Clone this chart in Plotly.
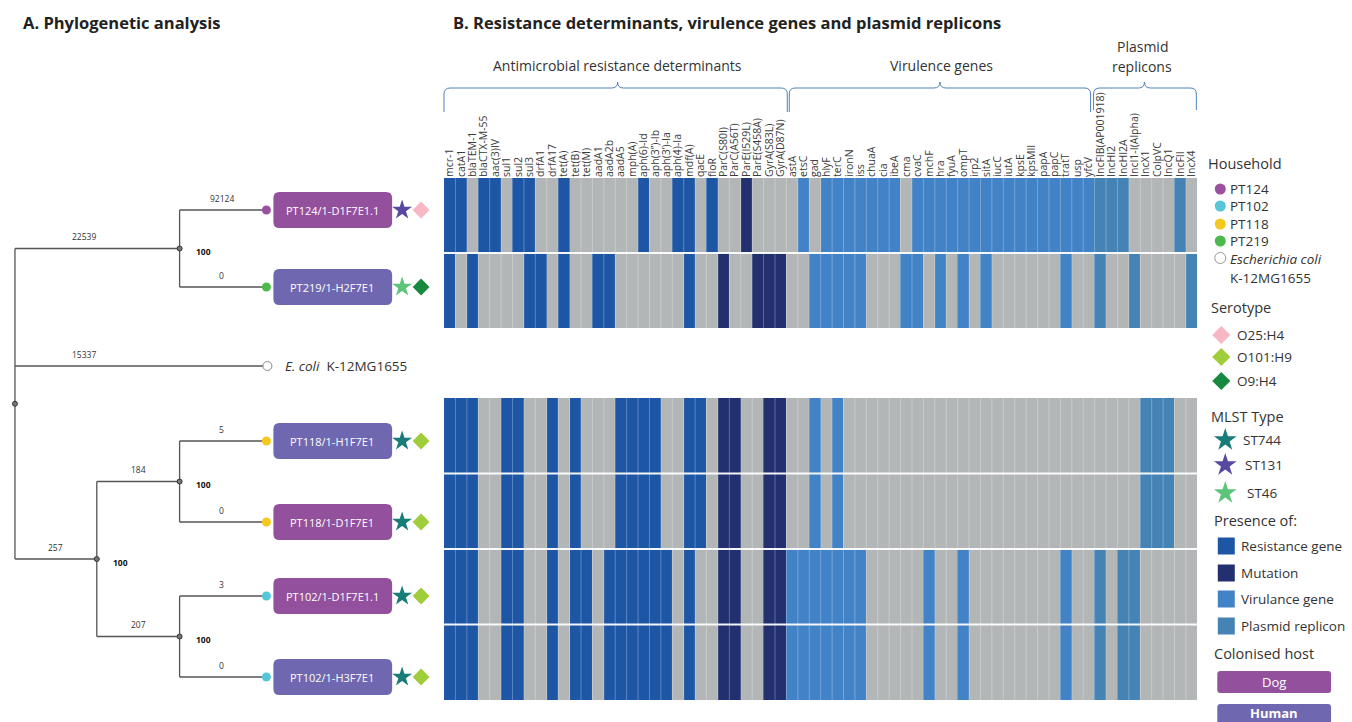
import plotly.graph_objects as go

W, H = 1352, 722
FONT = "Open Sans"

# ---------------- data ----------------
amr_genes = ["mcr-1", "catA1", "blaTEM-1", "blaCTX-M-55", "aac(3)IV", "sul1", "sul2", "sul3",
             "drfA1", "drfA17", "tet(A)", "tet(B)", "tet(M)", "aadA1", "aadA2b", "aadA5",
             "mph(A)", "aph(6)-Id", "aph(3’’)-Ib", "aph(3’)-Ia", "aph(4)-Ia", "mdf(A)", "qacE", "floR"]
mutations = ["ParC(S80I)", "ParC(A56T)", "ParE(I529L)", "ParE(S458A)", "GyrA(S83L)", "GyrA(D87N)"]
virulence_genes = ["astA", "etsC", "gad", "hlyF", "terC", "ironN", "iss", "chuaA", "cia", "ibeA",
                   "cma", "cvaC", "mchF", "hra", "fyuA", "ompT", "irp2", "sitA", "iucC", "iutA",
                   "kpsE", "kpsMII", "papA", "papC", "tratT", "usp", "yfcV"]
plasmid_replicons = ["IncFIB(AP001918)", "IncHI2", "IncHI2A", "IncI1-I(Alpha)", "IncX1", "ColpVC",
                     "IncQ1", "IncFII", "IncX4"]

isolates_top = ["PT124/1-D1F7E1.1", "PT219/1-H2F7E1"]
isolates_bottom = ["PT118/1-H1F7E1", "PT118/1-D1F7E1", "PT102/1-D1F7E1.1", "PT102/1-H3F7E1"]

present = {
    "PT124/1-D1F7E1.1": ["mcr-1", "catA1", "blaCTX-M-55", "aac(3)IV", "sul2", "sul3", "tet(A)",
                         "aph(6)-Id", "aph(4)-Ia", "mdf(A)", "floR", "ParE(I529L)",
                         "etsC", "hlyF", "terC", "ironN", "iss", "chuaA", "cia", "ibeA",
                         "cvaC", "mchF", "hra", "fyuA", "ompT", "irp2", "sitA", "iucC", "iutA",
                         "kpsE", "kpsMII", "papA", "papC", "tratT", "usp", "yfcV",
                         "IncFIB(AP001918)", "IncHI2", "IncHI2A", "IncFII"],
    "PT219/1-H2F7E1": ["mcr-1", "blaTEM-1", "sul3", "drfA1", "tet(A)", "aadA1", "aadA2b", "mdf(A)",
                       "ParC(S80I)", "ParE(S458A)", "GyrA(S83L)", "GyrA(D87N)",
                       "gad", "hlyF", "terC", "ironN", "iss", "cma", "cvaC", "hra", "ompT", "sitA", "tratT",
                       "IncFIB(AP001918)", "IncI1-I(Alpha)", "IncX4"],
    "PT118/1-H1F7E1": ["mcr-1", "catA1", "blaTEM-1", "sul1", "sul2", "drfA17", "tet(B)", "aadA5",
                       "mph(A)", "aph(6)-Id", "aph(3’’)-Ib", "mdf(A)", "qacE",
                       "ParC(S80I)", "ParC(A56T)", "GyrA(S83L)", "GyrA(D87N)",
                       "gad", "terC", "IncX1", "ColpVC", "IncQ1"],
    "PT118/1-D1F7E1": ["mcr-1", "catA1", "blaTEM-1", "sul1", "sul2", "drfA17", "tet(B)", "aadA5",
                       "mph(A)", "aph(6)-Id", "aph(3’’)-Ib", "mdf(A)", "qacE",
                       "ParC(S80I)", "ParC(A56T)", "GyrA(S83L)", "GyrA(D87N)",
                       "gad", "terC", "IncX1", "ColpVC", "IncQ1"],
    "PT102/1-D1F7E1.1": ["mcr-1", "catA1", "blaTEM-1", "sul1", "sul2", "drfA17", "tet(B)", "tet(M)",
                         "aadA2b", "aadA5", "mph(A)", "aph(6)-Id", "aph(3’’)-Ib", "aph(3’)-Ia", "mdf(A)",
                         "ParC(S80I)", "ParC(A56T)", "GyrA(S83L)", "GyrA(D87N)",
                         "astA", "etsC", "gad", "hlyF", "terC", "ironN", "iss", "mchF", "ompT", "tratT",
                         "IncFIB(AP001918)", "IncHI2A", "IncI1-I(Alpha)"],
    "PT102/1-H3F7E1": ["mcr-1", "catA1", "blaTEM-1", "sul1", "sul2", "drfA17", "tet(B)", "tet(M)",
                       "aadA2b", "aadA5", "mph(A)", "aph(6)-Id", "aph(3’’)-Ib", "aph(3’)-Ia", "mdf(A)",
                       "ParC(S80I)", "ParC(A56T)", "GyrA(S83L)", "GyrA(D87N)",
                       "astA", "etsC", "gad", "hlyF", "terC", "ironN", "iss", "mchF", "ompT", "tratT",
                       "IncFIB(AP001918)", "IncHI2A", "IncI1-I(Alpha)"],
}

# tree
tree_children = {"root": ["n1", "Ecoli", "n2"],
                 "n1": ["PT124/1-D1F7E1.1", "PT219/1-H2F7E1"],
                 "n2": ["n3", "n4"],
                 "n3": ["PT118/1-H1F7E1", "PT118/1-D1F7E1"],
                 "n4": ["PT102/1-D1F7E1.1", "PT102/1-H3F7E1"]}
branch_lengths = {"n1": 22539, "PT124/1-D1F7E1.1": 92124, "PT219/1-H2F7E1": 0, "Ecoli": 15337,
                  "n2": 257, "n3": 184, "PT118/1-H1F7E1": 5, "PT118/1-D1F7E1": 0,
                  "n4": 207, "PT102/1-D1F7E1.1": 3, "PT102/1-H3F7E1": 0}
bootstrap = {"n1": 100, "n2": 100, "n3": 100, "n4": 100}
leaves = ["PT124/1-D1F7E1.1", "PT219/1-H2F7E1", "Ecoli", "PT118/1-H1F7E1", "PT118/1-D1F7E1",
          "PT102/1-D1F7E1.1", "PT102/1-H3F7E1"]
household = {"PT124/1-D1F7E1.1": "PT124", "PT219/1-H2F7E1": "PT219", "PT118/1-H1F7E1": "PT118",
             "PT118/1-D1F7E1": "PT118", "PT102/1-D1F7E1.1": "PT102", "PT102/1-H3F7E1": "PT102"}
host = {"PT124/1-D1F7E1.1": "Dog", "PT219/1-H2F7E1": "Human", "PT118/1-H1F7E1": "Human",
        "PT118/1-D1F7E1": "Dog", "PT102/1-D1F7E1.1": "Dog", "PT102/1-H3F7E1": "Human"}
mlst = {"PT124/1-D1F7E1.1": "ST131", "PT219/1-H2F7E1": "ST46", "PT118/1-H1F7E1": "ST744",
        "PT118/1-D1F7E1": "ST744", "PT102/1-D1F7E1.1": "ST744", "PT102/1-H3F7E1": "ST744"}
serotype = {"PT124/1-D1F7E1.1": "O25:H4", "PT219/1-H2F7E1": "O9:H4", "PT118/1-H1F7E1": "O101:H9",
            "PT118/1-D1F7E1": "O101:H9", "PT102/1-D1F7E1.1": "O101:H9", "PT102/1-H3F7E1": "O101:H9"}

household_legend = ["PT124", "PT102", "PT118", "PT219"]
serotype_legend = ["O25:H4", "O101:H9", "O9:H4"]
mlst_legend = ["ST744", "ST131", "ST46"]
presence_legend = ["Resistance gene", "Mutation", "Virulance gene", "Plasmid replicon"]
host_legend = ["Dog", "Human"]

# ---------------- styles ----------------
C_GRAY, C_RES, C_MUT, C_VIR, C_PLA = "#b3b6b7", "#1e56a6", "#22306f", "#4282c6", "#4683b5"
household_colors = {"PT124": "#9b50a0", "PT102": "#56c5d8", "PT118": "#f4c81c", "PT219": "#4db84b"}
serotype_colors = {"O25:H4": "#f7b7c3", "O101:H9": "#a0cd3a", "O9:H4": "#188a3f"}
mlst_colors = {"ST744": "#187c79", "ST131": "#5848a2", "ST46": "#5dc47b"}
host_colors = {"Dog": "#93509d", "Human": "#6f68b1"}
presence_colors = [C_RES, C_MUT, C_VIR, C_PLA]
BR = "#4f81bd"

columns = amr_genes + mutations + virulence_genes + plasmid_replicons
ncol = len(columns)


def code(iso, g):
    if g not in present[iso]:
        return 0
    if g in amr_genes:
        return 1
    if g in mutations:
        return 2
    if g in virulence_genes:
        return 3
    return 4


z_top = [[code(i, g) for g in columns] for i in isolates_top]
z_bot = [[code(i, g) for g in columns] for i in isolates_bottom]
cs = [[0, C_GRAY], [0.2, C_GRAY], [0.2, C_RES], [0.4, C_RES], [0.4, C_MUT], [0.6, C_MUT],
      [0.6, C_VIR], [0.8, C_VIR], [0.8, C_PLA], [1, C_PLA]]

fig = go.Figure()
for z, ya, names in [(z_top, "y", isolates_top), (z_bot, "y2", isolates_bottom)]:
    fig.add_trace(go.Heatmap(z=z, x=list(range(ncol)), y=list(range(len(names))),
                             xaxis="x" if ya == "y" else "x2", yaxis=ya,
                             colorscale=cs, zmin=-0.5, zmax=4.5, showscale=False,
                             text=[names[r:r + 1] * ncol for r in range(len(names))],
                             hovertemplate="%{text}<extra></extra>"))

shapes = []
# faint column separators and white row separators
for xr, yr, nrow in [("x", "y", 2), ("x2", "y2", 4)]:
    for k in range(1, ncol):
        shapes.append(dict(type="line", xref=xr, yref=yr + " domain", x0=k - 0.5, x1=k - 0.5, y0=0, y1=1,
                           line=dict(color="rgba(255,255,255,0.28)", width=1), layer="above"))
    for r in range(1, nrow):
        shapes.append(dict(type="line", xref=xr + " domain", yref=yr, x0=0, x1=1, y0=r - 0.5, y1=r - 0.5,
                           line=dict(color="rgba(255,255,255,0.95)", width=2), layer="above"))

annotations = []


def txt(x, y, s, size=13, color="#333333", anchor="left", bold=False, **kw):
    if bold:
        s = "<b>" + s + "</b>"
    annotations.append(dict(x=x, y=y, xref="x3", yref="y3", text=s, showarrow=False,
                            xanchor=anchor, yanchor="middle",
                            font=dict(family=FONT, size=size, color=color), **kw))


def rrect(x0, y0, x1, y1, r):
    return (f"M {x0 + r},{y0} L {x1 - r},{y0} Q {x1},{y0} {x1},{y0 + r} L {x1},{y1 - r} "
            f"Q {x1},{y1} {x1 - r},{y1} L {x0 + r},{y1} Q {x0},{y1} {x0},{y1 - r} "
            f"L {x0},{y0 + r} Q {x0},{y0} {x0 + r},{y0} Z")


def brace(x0, x1, xm, ytop, ybot):
    r = 6
    return (f"M {x0},{ybot} L {x0},{ytop + r} Q {x0},{ytop} {x0 + r},{ytop} L {xm - r},{ytop} "
            f"Q {xm},{ytop} {xm},{ytop - r} Q {xm},{ytop} {xm + r},{ytop} L {x1 - r},{ytop} "
            f"Q {x1},{ytop} {x1},{ytop + r} L {x1},{ybot}")


# titles
txt(19, 22, "A. Phylogenetic analysis", 16.5, "#222222", bold=True)
txt(450, 22, "B. Resistance determinants, virulence genes and plasmid replicons", 16.5, "#222222", bold=True)

# brackets and headings
shapes.append(dict(type="path", xref="x3", yref="y3", path=brace(443, 787, 617, 88, 112), line=dict(color=BR, width=1)))
shapes.append(dict(type="path", xref="x3", yref="y3", path=brace(789, 1091, 940, 88, 112), line=dict(color=BR, width=1)))
shapes.append(dict(type="path", xref="x3", yref="y3", path=brace(1094, 1197, 1145, 88, 110), line=dict(color=BR, width=1)))
txt(617, 65, "Antimicrobial resistance determinants", 14, anchor="center")
txt(942, 65, "Virulence genes", 14, anchor="center")
txt(1143, 46, "Plasmid", 14, anchor="center")
txt(1143, 66, "replicons", 14, anchor="center")

# ---------------- tree layout ----------------
leaf_y_px = [210, 287, 366, 441, 522, 596, 677]
node_x_px = {"root": 13, "n1": 178, "n2": 95, "n3": 178, "n4": 178}
LEAF_X = 262
pos = {}
for lf, yy in zip(leaves, leaf_y_px):
    pos[lf] = (LEAF_X, yy)


def place(n):
    if n in pos:
        return pos[n]
    ys = [place(c)[1] for c in tree_children[n]]
    pos[n] = (node_x_px[n], (min(ys) + max(ys)) / 2)
    return pos[n]


place("root")
lx, ly = [], []
for p, kids in tree_children.items():
    px, py = pos[p]
    ys = [pos[c][1] for c in kids]
    lx += [px, px, None]
    ly += [min(ys), max(ys), None]
    for c in kids:
        cx, cy = pos[c]
        lx += [px, cx, None]
        ly += [cy, cy, None]
        mid = min((px + cx) / 2, px + 69)
        txt(mid, cy - 12, str(branch_lengths[c]), 8.5, "#333333", anchor="center")
fig.add_trace(go.Scatter(x=lx, y=ly, mode="lines", line=dict(color="#555555", width=1.3),
                         xaxis="x3", yaxis="y3", hoverinfo="skip", showlegend=False))
inodes = list(tree_children.keys())
fig.add_trace(go.Scatter(x=[pos[n][0] for n in inodes], y=[pos[n][1] for n in inodes], mode="markers",
                         marker=dict(size=5, color="#777777", line=dict(color="#333333", width=1)),
                         xaxis="x3", yaxis="y3", hoverinfo="skip", showlegend=False))
for n, b in bootstrap.items():
    txt(pos[n][0] + 14, pos[n][1] + 3, str(b), 8.5, "#111111", bold=True)

# leaf markers
iso_leaves = [lf for lf in leaves if lf in household]
fig.add_trace(go.Scatter(x=[LEAF_X + 3] * len(iso_leaves), y=[pos[l][1] for l in iso_leaves], mode="markers",
                         marker=dict(size=9, color=[household_colors[household[l]] for l in iso_leaves]),
                         xaxis="x3", yaxis="y3", hoverinfo="skip", showlegend=False))
fig.add_trace(go.Scatter(x=[LEAF_X + 4], y=[pos["Ecoli"][1]], mode="markers",
                         marker=dict(size=9, color="white", line=dict(color="#888888", width=1)),
                         xaxis="x3", yaxis="y3", hoverinfo="skip", showlegend=False))
txt(282, pos["Ecoli"][1], "<i>E. coli</i>  K-12MG1655", 13.5, "#333333")

for l in iso_leaves:
    cy = pos[l][1]
    shapes.append(dict(type="path", xref="x3", yref="y3", path=rrect(272, cy - 18, 391, cy + 18, 6),
                       fillcolor=host_colors[host[l]], line=dict(width=0)))
    txt(331, cy, l, 11, "white", anchor="center")
fig.add_trace(go.Scatter(x=[401] * len(iso_leaves), y=[pos[l][1] for l in iso_leaves], mode="markers",
                         marker=dict(symbol="star", size=15, color=[mlst_colors[mlst[l]] for l in iso_leaves]),
                         xaxis="x3", yaxis="y3", hoverinfo="skip", showlegend=False))
fig.add_trace(go.Scatter(x=[420] * len(iso_leaves), y=[pos[l][1] for l in iso_leaves], mode="markers",
                         marker=dict(symbol="diamond", size=13, color=[serotype_colors[serotype[l]] for l in iso_leaves]),
                         xaxis="x3", yaxis="y3", hoverinfo="skip", showlegend=False))

# ---------------- legend ----------------
txt(1207, 163, "Household", 14.5)
hy = [189, 206, 224, 241]
fig.add_trace(go.Scatter(x=[1221] * 4, y=hy, mode="markers",
                         marker=dict(size=11, color=[household_colors[h] for h in household_legend]),
                         xaxis="x3", yaxis="y3", hoverinfo="skip", showlegend=False))
for h, yy in zip(household_legend, hy):
    txt(1229, yy, h, 13.5)
fig.add_trace(go.Scatter(x=[1221], y=[258], mode="markers",
                         marker=dict(size=11, color="white", line=dict(color="#999999", width=1)),
                         xaxis="x3", yaxis="y3", hoverinfo="skip", showlegend=False))
txt(1229, 259, "<i>Escherichia coli</i>", 13.5)
txt(1229, 278, "K-12MG1655", 13.5)

txt(1210, 307, "Serotype", 14.5)
sy = [335, 357, 381]
fig.add_trace(go.Scatter(x=[1222] * 3, y=sy, mode="markers",
                         marker=dict(symbol="diamond", size=14, color=[serotype_colors[s] for s in serotype_legend]),
                         xaxis="x3", yaxis="y3", hoverinfo="skip", showlegend=False))
for s, yy in zip(serotype_legend, sy):
    txt(1236, yy, s, 13.5)

txt(1210, 416, "MLST Type", 14.5)
my = [440, 465, 493]
fig.add_trace(go.Scatter(x=[1226] * 3, y=my, mode="markers",
                         marker=dict(symbol="star", size=17, color=[mlst_colors[m] for m in mlst_legend]),
                         xaxis="x3", yaxis="y3", hoverinfo="skip", showlegend=False))
for m, yy, xx in zip(mlst_legend, my, [1242, 1244, 1246]):
    txt(xx, yy, m, 13.5)

txt(1213, 520, "Presence of:", 14.5)
py_ = [546, 573, 599, 626]
fig.add_trace(go.Scatter(x=[1227] * 4, y=py_, mode="markers",
                         marker=dict(symbol="square", size=17, color=presence_colors),
                         xaxis="x3", yaxis="y3", hoverinfo="skip", showlegend=False))
for p, yy in zip(presence_legend, py_):
    txt(1240, yy, p, 13.5)

txt(1213, 653, "Colonised host", 14.5)
for hname, yy in zip(host_legend, [682, 715]):
    shapes.append(dict(type="path", xref="x3", yref="y3", path=rrect(1218, yy - 11, 1332, yy + 11, 3),
                       fillcolor=host_colors[hname], line=dict(width=0)))
    txt(1275, min(yy, 713), hname, 13, "white", anchor="center", bold=(hname == "Human"))

# ---------------- axes ----------------
xd = [443 / W, 1198 / W]
fig.update_layout(
    width=W, height=H, margin=dict(l=0, r=0, t=0, b=0),
    paper_bgcolor="white", plot_bgcolor="rgba(0,0,0,0)",
    showlegend=False, font=dict(family=FONT, color="#333333"),
    xaxis=dict(domain=xd, anchor="y", side="top", range=[-0.5, ncol - 0.5],
               tickmode="array", tickvals=list(range(ncol)), ticktext=columns, tickangle=-90,
               tickfont=dict(family=FONT, size=10.5, color="#3a3a3a"), ticks="", ticklen=0,
               showgrid=False, zeroline=False, showline=False, fixedrange=True),
    yaxis=dict(domain=[1 - 328 / H, 1 - 178 / H], anchor="x", range=[1.5, -0.5], visible=False, fixedrange=True),
    xaxis2=dict(domain=xd, anchor="y2", matches="x", visible=False, fixedrange=True),
    yaxis2=dict(domain=[1 - 700 / H, 1 - 398 / H], anchor="x2", range=[3.5, -0.5], visible=False, fixedrange=True),
    xaxis3=dict(domain=[0, 1], anchor="y3", range=[0, W], visible=False, fixedrange=True),
    yaxis3=dict(domain=[0, 1], anchor="x3", range=[H, 0], visible=False, fixedrange=True),
    shapes=shapes, annotations=annotations,
)

fig.write_html("out.html", config={"displayModeBar": False},
               post_script="document.body.style.margin='0px';document.body.style.overflow='hidden';")
